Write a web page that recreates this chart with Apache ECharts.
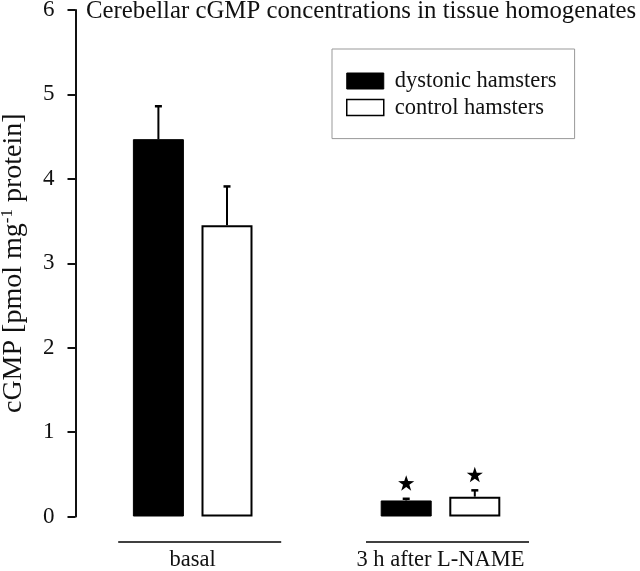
<!DOCTYPE html>
<html>
<head>
<meta charset="utf-8">
<script src="https://cdn.jsdelivr.net/npm/echarts@6/dist/echarts.min.js"></script>
<style>html,body{margin:0;padding:0;background:#fff;}#c{width:640px;height:571px;}</style>
</head>
<body>
<div id="c"></div>
<script>
const categories = ['basal', '3 h after L-NAME'];
const seriesNames = ['dystonic hamsters', 'control hamsters'];
const dystonicMean = [4.47, 0.19];
const dystonicSEM = [0.39, 0.02];
const controlMean = [3.45, 0.235];
const controlSEM = [0.46, 0.075];
const dystonicSig = [0, 1];
const controlSig = [0, 1];
const yMin = 0, yMax = 6, yInterval = 1;
const titleText = 'Cerebellar cGMP concentrations in tissue homogenates';

const FONT = 'Liberation Serif';
const chart = echarts.init(document.getElementById('c'), null, {renderer: 'canvas'});

const BAR_W = 51;
const HALF_STEP = 34.3;

function starPoints(cx, cy, R, r) {
  const pts = [];
  for (let k = 0; k < 10; k++) {
    const ang = -Math.PI / 2 + k * Math.PI / 5;
    const rad = k % 2 === 0 ? R : r;
    pts.push([cx + rad * Math.cos(ang), cy + rad * Math.sin(ang)]);
  }
  return pts;
}

const customData = categories.map((c, i) => [i, dystonicMean[i], dystonicSEM[i], controlMean[i], controlSEM[i], dystonicSig[i], controlSig[i]]);

const option = {
  backgroundColor: '#fff',
  animation: false,
  title: {
    text: titleText,
    left: 86, top: -1, padding: 0,
    textStyle: {fontFamily: FONT, fontSize: 24.8, fontWeight: 'normal', color: '#111'}
  },
  legend: {
    orient: 'vertical',
    left: 332, top: 49,
    padding: [20.5, 18, 19.5, 14],
    itemGap: 3.6,
    itemWidth: 37, itemHeight: 16,
    borderColor: '#999', borderWidth: 1,
    backgroundColor: '#fff',
    icon: 'rect',
    textStyle: {fontFamily: FONT, fontSize: 22.5, color: '#111', lineHeight: 22, padding: [0, 0, 0, 6]},
    data: [
      {name: seriesNames[0], itemStyle: {color: '#000', borderColor: '#000', borderWidth: 1}},
      {name: seriesNames[1], itemStyle: {color: '#fff', borderColor: '#000', borderWidth: 1.5}}
    ]
  },
  grid: {left: 68.8, right: 75.6, top: 10, bottom: 54.5, containLabel: false, outerBoundsMode: 'none'},
  xAxis: {
    type: 'category',
    data: categories,
    axisLine: {show: false},
    axisTick: {show: false},
    axisLabel: {margin: 32, fontFamily: FONT, fontSize: 22.5, color: '#111'}
  },
  yAxis: {
    type: 'value',
    min: yMin, max: yMax, interval: yInterval,
    offset: -6.7,
    name: 'cGMP [pmol mg{sup|-1} protein]',
    nameLocation: 'middle',
    nameGap: 48,
    nameRotate: 90,
    nameTextStyle: {
      fontFamily: FONT, fontSize: 28, color: '#111',
      rich: {sup: {fontFamily: FONT, fontSize: 17, color: '#111', verticalAlign: 'top', padding: [0, 0, 10, 0]}}
    },
    splitLine: {show: false},
    axisLine: {show: true, lineStyle: {color: '#111', width: 2}},
    axisTick: {show: true, inside: false, length: 8, lineStyle: {color: '#111', width: 2}},
    axisLabel: {margin: 21, fontFamily: FONT, fontSize: 23, color: '#111'}
  },
  series: [
    {
      name: seriesNames[0], type: 'bar', data: dystonicMean,
      barWidth: BAR_W, barGap: '34.5%',
      itemStyle: {color: '#000', borderColor: '#000', borderWidth: 1}
    },
    {
      name: seriesNames[1], type: 'bar', data: controlMean,
      barWidth: BAR_W, barGap: '34.5%',
      itemStyle: {color: '#fff', borderColor: '#000', borderWidth: 2}
    },
    {
      type: 'custom', name: 'errors', silent: true, clip: false, z: 5,
      encode: {x: 0, y: 1},
      data: customData,
      renderItem: function (params, api) {
        const idx = api.value(0);
        const base = api.coord([idx, 0]);
        const offs = [-HALF_STEP, HALF_STEP];
        const means = [api.value(1), api.value(3)];
        const errs = [api.value(2), api.value(4)];
        const sigs = [api.value(5), api.value(6)];
        const children = [];
        for (let s = 0; s < 2; s++) {
          const x = base[0] + offs[s];
          const top = api.coord([idx, means[s]])[1];
          const et = api.coord([idx, means[s] + errs[s]])[1];
          children.push({type: 'line', shape: {x1: x, y1: top, x2: x, y2: et}, style: {stroke: '#000', lineWidth: 2}});
          children.push({type: 'line', shape: {x1: x - 3.5, y1: et, x2: x + 3.5, y2: et}, style: {stroke: '#000', lineWidth: 2.5}});
          if (sigs[s]) {
            children.push({type: 'polygon', shape: {points: starPoints(x, et - 15, 8.5, 3.3)}, style: {fill: '#000'}});
          }
        }
        const cx = base[0] + 7;
        children.push({type: 'line', shape: {x1: cx - 81.5, y1: base[1] + 25.5, x2: cx + 81.5, y2: base[1] + 25.5}, style: {stroke: '#000', lineWidth: 1.5}});
        return {type: 'group', children: children};
      }
    }
  ]
};
chart.setOption(option);
</script>
</body>
</html>
